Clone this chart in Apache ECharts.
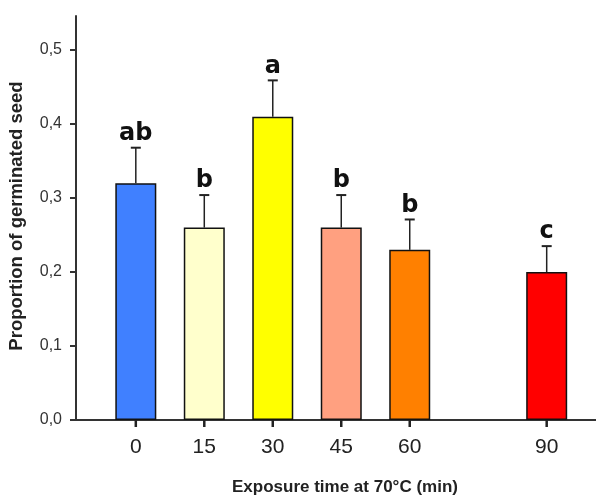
<!DOCTYPE html>
<html>
<head>
<meta charset="utf-8">
<script src="https://cdn.jsdelivr.net/npm/echarts@6/dist/echarts.min.js"></script>
<style>html,body{margin:0;padding:0;background:#fff;}#c{width:596px;height:501px;}</style>
</head>
<body>
<div id="c"></div>
<script>
const times = [0, 15, 30, 45, 60, 90];
const means = [0.32, 0.26, 0.41, 0.26, 0.23, 0.20];
const errors = [0.048, 0.044, 0.049, 0.044, 0.041, 0.035];
const letters = ['ab', 'b', 'a', 'b', 'b', 'c'];
const barColors = ['#4080ff', '#ffffcc', '#ffff00', '#ffa080', '#ff8000', '#ff0000'];
const yTicks = [0, 0.1, 0.2, 0.3, 0.4, 0.5];
const xTicks = [0, 15, 30, 45, 60, 90];

const chart = echarts.init(document.getElementById('c'), null, {renderer: 'canvas'});
const barData = times.map((t, i) => ({value: [t, means[i]], itemStyle: {color: barColors[i]}}));
const errData = times.map((t, i) => [t, means[i], errors[i], i]);
const tickData = xTicks.map(t => [t, 0]);

chart.setOption({
  animation: false,
  backgroundColor: '#fff',
  grid: {left: 76, right: 0, top: 16, bottom: 81, containLabel: false},
  xAxis: {
    type: 'value', min: -13.1, max: 100.8,
    splitLine: {show: false},
    axisLine: {show: true, onZero: false, lineStyle: {color: '#333', width: 2}},
    axisTick: {show: false},
    axisLabel: {customValues: xTicks, color: '#222', fontSize: 21, fontFamily: 'Liberation Sans, Arial', margin: 17}
  },
  yAxis: {
    type: 'value', min: 0, max: 0.546,
    splitLine: {show: false},
    axisLine: {show: true, onZero: false, lineStyle: {color: '#333', width: 2}},
    axisTick: {show: true, inside: false, customValues: yTicks, length: 6, lineStyle: {color: '#333', width: 2}},
    axisLabel: {customValues: yTicks, color: '#333', fontSize: 16, fontFamily: 'Liberation Sans, Arial', margin: 14,
      formatter: v => v.toFixed(1).replace('.', ',')}
  },
  series: [
    {
      type: 'bar', data: barData, barWidth: 41,
      itemStyle: {borderColor: '#111', borderWidth: 1.5}
    },
    {
      type: 'custom', data: errData, z: 5, clip: false,
      renderItem: function (params, api) {
        const x = api.value(0), m = api.value(1), e = api.value(2), idx = api.value(3);
        const base = api.coord([x, m]);
        const top = api.coord([x, m + e]);
        return {
          type: 'group',
          children: [
            {type: 'line', shape: {x1: base[0], y1: base[1], x2: top[0], y2: top[1]}, style: {stroke: '#222', lineWidth: 1.5}},
            {type: 'line', shape: {x1: top[0] - 5, y1: top[1], x2: top[0] + 5, y2: top[1]}, style: {stroke: '#222', lineWidth: 2}},
            {type: 'text', style: {text: letters[idx], x: top[0], y: top[1] - 2, align: 'center', verticalAlign: 'bottom',
              font: 'bold 24px "DejaVu Sans"', fill: '#111'}}
          ]
        };
      }
    },
    {
      type: 'custom', data: tickData, z: 50, clip: false, silent: true,
      encode: {x: 0, y: 1},
      renderItem: function (params, api) {
        const p = api.coord([api.value(0), api.value(1)]);
        return {
          type: 'polyline',
          shape: {points: [[p[0], p[1]], [p[0], p[1] + 7]]},
          style: {stroke: '#222', lineWidth: 2.5, fill: null}
        };
      }
    }
  ],
  graphic: [
    {type: 'text', left: 232, top: 479, style: {text: 'Exposure time at 70°C (min)', font: 'bold 17px "Liberation Sans", Arial', fill: '#222'}},
    {type: 'text', x: 17, y: 216, rotation: Math.PI / 2, style: {text: 'Proportion of germinated seed', font: 'bold 18.5px "Liberation Sans", Arial', fill: '#222', align: 'center', verticalAlign: 'middle'}}
  ]
});
</script>
</body>
</html>
